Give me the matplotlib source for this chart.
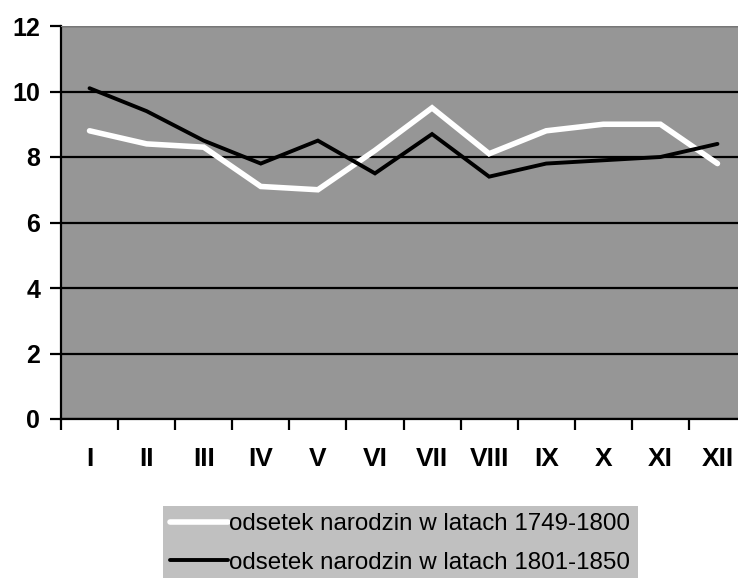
import numpy as np
import matplotlib.pyplot as plt

plt.rcParams['font.family'] = ['Liberation Sans', 'DejaVu Sans']

months = ['I', 'II', 'III', 'IV', 'V', 'VI', 'VII', 'VIII', 'IX', 'X', 'XI', 'XII']
share_1749_1800 = [8.8, 8.4, 8.3, 7.1, 7.0, 8.2, 9.5, 8.1, 8.8, 9.0, 9.0, 7.8]
share_1801_1850 = [10.1, 9.4, 8.5, 7.8, 8.5, 7.5, 8.7, 7.4, 7.8, 7.9, 8.0, 8.4]
labels = ['odsetek narodzin w latach 1749-1800',
          'odsetek narodzin w latach 1801-1850']

W, H = 738, 578
fig = plt.figure(figsize=(W / 100, H / 100), dpi=100)
ax = fig.add_axes([61 / W, (H - 419) / H, 685 / W, (419 - 26) / H])
ax.set_facecolor('#969696')

x = np.arange(len(months)) + 0.5
ax.plot(x, share_1749_1800, color='white', lw=4.0, solid_capstyle='round',
        solid_joinstyle='miter', label=labels[0], zorder=3)
ax.plot(x, share_1801_1850, color='black', lw=2.8, solid_capstyle='round',
        solid_joinstyle='miter', label=labels[1], zorder=4)

ax.set_xlim(0, 12)
ax.set_ylim(0, 12)
ax.set_yticks(range(0, 13, 2))
ax.yaxis.grid(True, color='black', lw=1.6)
ax.set_axisbelow(True)

ax.set_xticks(range(0, 12))
ax.set_xticklabels([])
ax.set_xticks(x, minor=True)
ax.set_xticklabels(months, minor=True)
ax.tick_params(axis='x', which='minor', length=0, pad=20, labelsize=19)
ax.tick_params(axis='x', which='major', length=8, width=1.6, direction='out')
ax.tick_params(axis='y', length=8, width=1.6, direction='out', labelsize=18, pad=7)
for lab in ax.get_xticklabels(minor=True) + ax.get_yticklabels():
    lab.set_fontweight('bold')

for s in ['top', 'right']:
    ax.spines[s].set_visible(False)
ax.spines['left'].set_linewidth(1.6)
ax.spines['bottom'].set_linewidth(1.6)
ax.axhline(12, color='#777777', lw=1.5, zorder=5)

leg = fig.legend(loc='upper left', bbox_to_anchor=(163 / W, 1 - 506 / H),
                 frameon=True, fancybox=False, fontsize=17.4,
                 handlelength=2.4, handletextpad=0.05, borderpad=0.3,
                 borderaxespad=0, labelspacing=0.68)
leg.get_frame().set_facecolor('#c0c0c0')
leg.get_frame().set_edgecolor('none')
leg.get_frame().set_alpha(1)

fig.savefig('out.png', dpi=100)
